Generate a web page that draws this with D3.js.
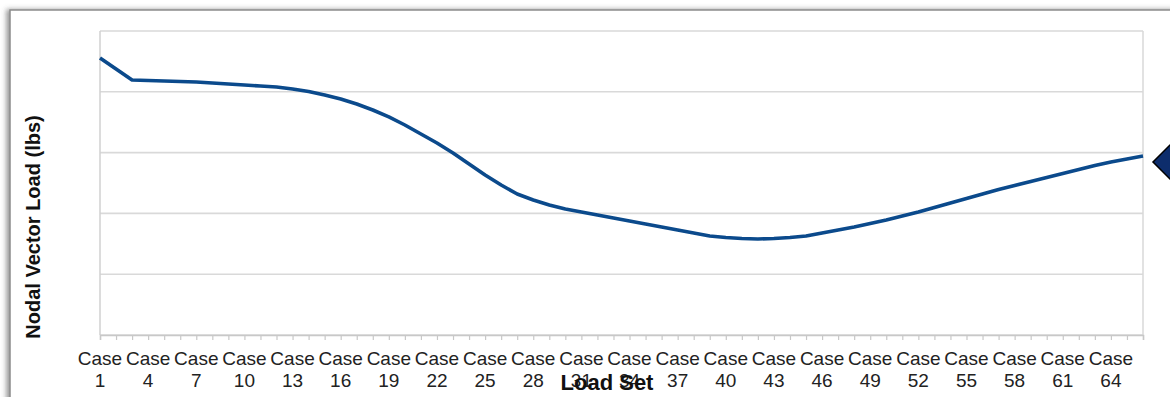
<!DOCTYPE html>
<html>
<head>
<meta charset="utf-8">
<script src="https://cdn.jsdelivr.net/npm/d3@7"></script>
<style>
  html, body { margin: 0; padding: 0; background: #fff; }
  svg { display: block; font-family: "Liberation Sans", Arial, sans-serif; }
</style>
</head>
<body>
<div id="chart"></div>
<script>
const W = 1170, H = 397;
const margin = { top: 31, right: 27, bottom: 62, left: 100 };
const width  = W - margin.left - margin.right;
const height = H - margin.top - margin.bottom;

// load cases 1..66
const cases = d3.range(1, 67);
// nodal vector load per case (axis values are hidden in the original)
const loads = [4556, 4375, 4194, 4186, 4178, 4169, 4161, 4145, 4128, 4112,
               4095, 4079, 4046, 4005, 3947, 3882, 3799, 3701, 3586, 3454,
               3306, 3158, 2993, 2813, 2632, 2467, 2319, 2220, 2138, 2072,
               2023, 1974, 1924, 1875, 1826, 1776, 1727, 1678, 1628, 1604,
               1587, 1579, 1587, 1604, 1628, 1678, 1727, 1776, 1834, 1891,
               1957, 2023, 2097, 2171, 2245, 2319, 2393, 2459, 2525, 2590,
               2656, 2722, 2788, 2845, 2895, 2944];
const yTicks = [0, 1000, 2000, 3000, 4000, 5000];
const labelCases = d3.range(1, 67, 3); // Case 1, 4, 7 ... 64

const svg = d3.select('#chart')
  .append('svg')
  .attr('width', W)
  .attr('height', H);

const defs = svg.append('defs');
const f = defs.append('filter').attr('id', 'shadow')
  .attr('x', '-5%').attr('y', '-5%').attr('width', '110%').attr('height', '110%');
f.append('feDropShadow').attr('dx', -3).attr('dy', 0).attr('stdDeviation', 2.5)
  .attr('flood-color', '#555').attr('flood-opacity', 0.6);

// outer frame
svg.append('rect')
  .attr('x', 10).attr('y', 10)
  .attr('width', 1250).attr('height', 450)
  .attr('fill', '#fff')
  .attr('stroke', '#8c8c8c')
  .attr('stroke-width', 1.5)
  .attr('filter', 'url(#shadow)');

const g = svg.append('g').attr('transform', `translate(${margin.left},${margin.top})`);

const x = d3.scalePoint().domain(cases).range([0, width]);
const y = d3.scaleLinear().domain([0, 5000]).range([height, 0]);

// gridlines
g.append('g').selectAll('line')
  .data(yTicks)
  .enter().append('line')
  .attr('x1', 0).attr('x2', width)
  .attr('y1', d => y(d)).attr('y2', d => y(d))
  .attr('stroke', '#d9d9d9')
  .attr('stroke-width', 1.6);

// plot borders left / right
g.append('line').attr('x1', 0).attr('x2', 0).attr('y1', 0).attr('y2', height)
  .attr('stroke', '#d0d0d0').attr('stroke-width', 1.5);
g.append('line').attr('x1', width).attr('x2', width).attr('y1', 0).attr('y2', height)
  .attr('stroke', '#d9d9d9').attr('stroke-width', 1.5);

// x axis with a tick at every case
const xAxis = g.append('g')
  .attr('transform', `translate(0,${height})`)
  .call(d3.axisBottom(x).tickSize(5).tickFormat(''));
xAxis.select('.domain').attr('stroke', '#c8c8c8').attr('stroke-width', 1.5);
xAxis.selectAll('.tick line').attr('stroke', '#c8c8c8').attr('stroke-width', 1.2);

const lbl = g.append('g').selectAll('text')
  .data(labelCases)
  .enter().append('text')
  .attr('x', d => x(d))
  .attr('text-anchor', 'middle')
  .attr('fill', '#222')
  .style('font-size', '19px');
lbl.append('tspan').attr('x', d => x(d)).attr('y', height + 30).text('Case');
lbl.append('tspan').attr('x', d => x(d)).attr('y', height + 52).text(d => d);

// the line
const line = d3.line()
  .x((d, i) => x(cases[i]))
  .y(d => y(d));

g.append('path')
  .datum(loads)
  .attr('fill', 'none')
  .attr('stroke', '#0b4a8c')
  .attr('stroke-width', 3.6)
  .attr('stroke-linejoin', 'round')
  .attr('d', line);

// axis titles
svg.append('text')
  .attr('transform', `translate(40,227) rotate(-90)`)
  .attr('text-anchor', 'middle')
  .attr('font-weight', 'bold')
  .attr('fill', '#111')
  .style('font-size', '20px')
  .text('Nodal Vector Load (lbs)');

svg.append('text')
  .attr('x', 607).attr('y', 390)
  .attr('text-anchor', 'middle')
  .attr('font-weight', 'bold')
  .attr('fill', '#111')
  .style('font-size', '22px')
  .text('Load Set');

// legend marker (cut at the right edge)
svg.append('path')
  .attr('d', d3.symbol().type(d3.symbolSquare).size(968)())
  .attr('transform', 'translate(1175,162) rotate(45)')
  .attr('fill', '#0d2d6c')
  .attr('stroke', '#000')
  .attr('stroke-width', 1.5);
</script>
</body>
</html>
